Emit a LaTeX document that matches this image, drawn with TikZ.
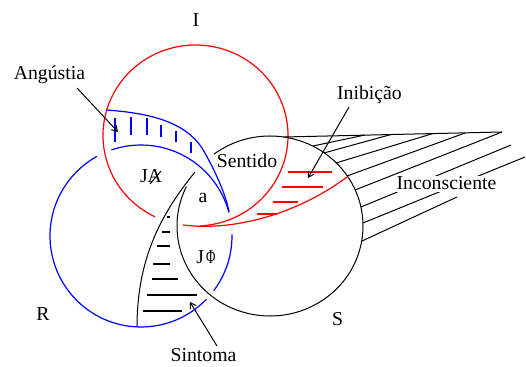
\documentclass[tikz,border=0pt]{standalone}
\usepackage{fontspec}
\setmainfont{Liberation Serif}
\usetikzlibrary{arrows.meta,calc}
\begin{document}
\begin{tikzpicture}[x=0.75pt,y=-0.75pt,
  lbl/.style={font=\fontsize{14.8}{17}\selectfont, inner sep=0pt, anchor=base},
  redl/.style={draw=red, line width=0.9pt},
  bluel/.style={draw=blue, line width=0.9pt},
  blackl/.style={draw=black, line width=0.75pt},
  hatch/.style={line width=0.9pt},
  arr/.style={blackl, -{Straight Barb[length=4pt,width=5pt]}},
]
\useasboundingbox[fill=white] (0,0) rectangle (526,367);

% ---- red circle I (with a gap) ----
\draw[redl] ($(195.5,135.5)+(116:92.5 and 90.5)$)
  arc[start angle=116, end angle=447, x radius=92.5, y radius=90.5];
% red lens (Inibicao)
\draw[redl] (183,225) .. controls (240,232) and (303,210) .. (347,177);
\foreach \y/\a/\b in {172/288/332, 187/282/323, 202/273/298, 214/257/277}
  \draw[redl, hatch] (\a,\y) -- (\b,\y);

% ---- blue circle R ----
\draw[bluel] ($(141,236)+(44:91)$) arc[start angle=44, end angle=241, radius=91];
\draw[bluel] ($(141,236)+(-1:91)$) arc[start angle=-1, end angle=37, radius=91];
\draw[bluel] ($(141,236)+(251:91)$) arc[start angle=251, end angle=345, radius=91];
% blue lens (Angustia)
\draw[bluel] (106,110) .. controls (150,113) and (185,122) .. (202,148)
  .. controls (215,170) and (226,195) .. (229,212);
\foreach \x/\a/\b in {115/118/142, 131/117/135, 147/118/135, 161/125/137, 176/131/142, 191/142/153}
  \draw[bluel, hatch] (\x,\a) -- (\x,\b);

% ---- black circle S ----
\draw[blackl] ($(270,226)+(233:93 and 90)$)
  arc[start angle=233, end angle=566, x radius=93, y radius=90];
% Sintoma region
\draw[blackl] (195,172) .. controls (160,215) and (137,260) .. (137,327);
\foreach \y/\a/\b in {217/167/170, 232/162/170, 246/157/170, 264/153/170, 279/152/178, 295/147/197, 311/143/182}
  \draw[blackl, hatch] (\a,\y) -- (\b,\y);

% Inconsciente hatching
\draw[blackl] (284,137) -- (502,132);
\foreach \p/\q in {{313,146}/{365,135}, {324,153}/{391,134.5}, {336,163}/{433,133.5},
  {347,176}/{465,133}, {355,190}/{502,132}, {361,207}/{511,145},
  {363,223}/{525,157}, {362,241}/{457,197}}
  \draw[blackl] (\p) -- (\q);

% ---- labels ----
\node[lbl] (tI) at (196,27) {I};
\node[lbl] (tang) at (49.5,80) {Angústia};
\node[lbl] (tinib) at (369.5,100) {Inibição};
\node[lbl] (tsent) at (247,168) {Sentido};
\node[lbl] (ta) at (203,203) {a};
\node[lbl] (tja) at (151,183) {JA};
\draw[blackl] (150,184) -- (161,171);
\node[lbl] (tjphi) at (206,264) {J\hspace{1.5pt}\scalebox{0.65}[1]{Φ}};
\node[lbl] (tR) at (43,321) {R};
\node[lbl] (tS) at (337.5,326) {S};
\node[lbl, fill=white, inner sep=1pt] (tinc) at (446.5,190) {Inconsciente};
\node[lbl] (tsint) at (203.5,362) {Sintoma};

% ---- arrows ----
\coordinate (angTail) at (77,88);
\coordinate (angTip) at (118,132);
\coordinate (inibTail) at (349,107);
\coordinate (inibTip) at (308,178);
\coordinate (sintTail) at (217,346);
\coordinate (sintTip) at (190,302);
\draw[arr] (angTail) -- (angTip);
\draw[arr] (inibTail) -- (inibTip);
\draw[arr] (sintTail) -- (sintTip);
\end{tikzpicture}
\end{document}
